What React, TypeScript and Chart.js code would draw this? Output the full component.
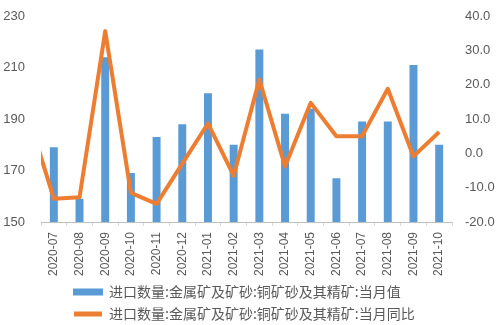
import React, { useEffect, useRef } from "react";
import { Chart, registerables } from "chart.js";

Chart.register(...registerables);

// categories (2020-06 is only there so the line enters from the left edge, as in the source)
const months = [
  "2020-06", "2020-07", "2020-08", "2020-09", "2020-10", "2020-11", "2020-12",
  "2021-01", "2021-02", "2021-03", "2021-04", "2021-05", "2021-06",
  "2021-07", "2021-08", "2021-09", "2021-10",
];
// 当月值 (万吨)
const monthlyValue = [null, 179, 159, 214, 169, 183, 188, 200, 180, 217, 192, 194, 167, 189, 189, 211, 180];
// 当月同比 (%)
const monthlyYoY = [11, -13.2, -12.8, 35.6, -11.5, -14.7, -3, 8.7, -6.5, 21.5, -3.8, 14.7, 5, 5, 18.8, -0.9, 6.2];

const seriesNames = [
  "进口数量:金属矿及矿砂:铜矿砂及其精矿:当月值",
  "进口数量:金属矿及矿砂:铜矿砂及其精矿:当月同比",
];

const leftTicks = { min: 150, max: 230, step: 20 };
const rightTicks = { min: -20, max: 40, step: 10 };

const BLUE = "#5B9BD5";
const ORANGE = "#ED7D31";
const TEXT = "#595959";

const legendShift = {
  id: "legendShift",
  afterLayout(chart: any) {
    if (chart.legend) {
      chart.legend.left += 63;
      chart.legend.right += 63;
    }
  },
};

export default function App() {
  const ref = useRef<HTMLCanvasElement>(null);

  useEffect(() => {
    if (!ref.current) return;
    const chart = new Chart(ref.current, {
      type: "bar",
      data: {
        labels: months,
        datasets: [
          {
            type: "bar",
            label: seriesNames[0],
            data: monthlyValue,
            backgroundColor: BLUE,
            borderWidth: 0,
            yAxisID: "y",
            order: 1,
            barPercentage: 0.31,
            categoryPercentage: 1,
          },
          {
            type: "line",
            label: seriesNames[1],
            data: monthlyYoY,
            borderColor: ORANGE,
            backgroundColor: ORANGE,
            borderWidth: 4,
            pointRadius: 0,
            tension: 0,
            borderJoinStyle: "round",
            yAxisID: "y1",
            order: 0,
          },
        ],
      },
      options: {
        animation: false,
        responsive: true,
        maintainAspectRatio: false,
        layout: { padding: { top: 16, left: 3, right: 4, bottom: 0 } },
        scales: {
          x: {
            min: "2020-07",
            offset: true,
            grid: {
              offset: true,
              drawOnChartArea: false,
              drawTicks: true,
              tickLength: 4,
              color: "#d9d9d9",
            },
            border: { display: true, color: "#bfbfbf" },
            ticks: {
              minRotation: 90,
              maxRotation: 90,
              autoSkip: false,
              padding: 6,
              color: TEXT,
              font: { family: "Liberation Sans", size: 12 },
            },
            afterFit: (s: any) => { s.height = 55; },
          },
          y: {
            position: "left",
            min: leftTicks.min,
            max: leftTicks.max,
            grid: { display: false, drawTicks: true, tickLength: 14 },
            border: { display: false },
            ticks: {
              stepSize: leftTicks.step,
              padding: 2,
              color: TEXT,
              font: { family: "Liberation Sans", size: 13 },
            },
            afterFit: (s: any) => { s.width = 38; },
          },
          y1: {
            position: "right",
            min: rightTicks.min,
            max: rightTicks.max,
            grid: { display: false, drawTicks: true, tickLength: 11 },
            border: { display: false },
            ticks: {
              stepSize: rightTicks.step,
              padding: 2,
              color: TEXT,
              font: { family: "Liberation Sans", size: 13 },
              callback: (v: any) => Number(v).toFixed(1),
            },
            afterFit: (s: any) => { s.width = 43; },
          },
        },
        plugins: {
          tooltip: { enabled: false },
          legend: {
            position: "bottom",
            align: "start",
            maxHeight: 48,
            labels: {
              boxWidth: 28,
              boxHeight: 5,
              padding: 8,
              color: TEXT,
              font: { family: "Noto Sans CJK SC", size: 14 },
              sort: (a: any, b: any) => a.datasetIndex - b.datasetIndex,
              generateLabels: (c: any) => {
                const items = (Chart.defaults.plugins.legend.labels as any).generateLabels(c);
                items.forEach((it: any) => {
                  if (it.datasetIndex === 0) {
                    it.fillStyle = BLUE;
                    it.strokeStyle = BLUE;
                    it.lineWidth = 2;
                  } else {
                    it.fillStyle = ORANGE;
                    it.strokeStyle = ORANGE;
                    it.lineWidth = 0;
                  }
                });
                return items;
              },
            },
          },
        },
      },
      plugins: [legendShift],
    } as any);
    return () => chart.destroy();
  }, []);

  return (
    <div style={{ position: "absolute", left: 0, top: 0, width: 499, height: 325 }}>
      <canvas ref={ref} />
    </div>
  );
}
